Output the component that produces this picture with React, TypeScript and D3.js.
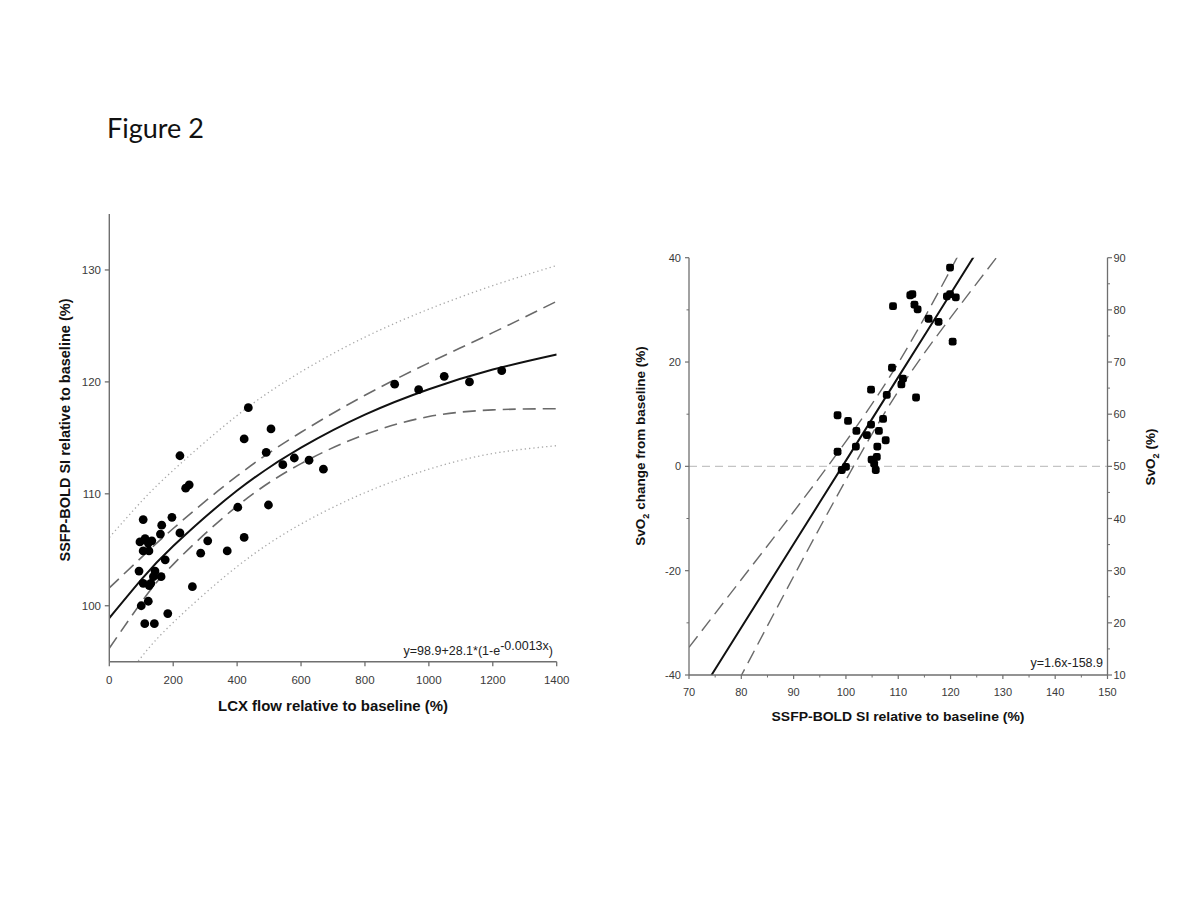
import React from "react";
import * as d3 from "d3";

// ---------- Left panel data ----------
const lcxFlow = [435, 422, 506, 221, 491, 543, 579, 625, 670, 239, 250, 402, 498, 106, 196, 164, 160, 221, 96, 112, 133, 122, 106, 124, 308, 422, 286, 369, 175, 93, 143, 138, 162, 106, 130, 125, 260, 122, 100, 183, 111, 141, 893, 968, 1048, 1127, 1228];
const boldSI = [117.7, 114.9, 115.8, 113.4, 113.7, 112.6, 113.2, 113.0, 112.2, 110.5, 110.8, 108.8, 109.0, 107.7, 107.9, 107.2, 106.4, 106.5, 105.7, 106.0, 105.8, 105.6, 104.9, 104.9, 105.8, 106.1, 104.7, 104.9, 104.1, 103.1, 103.1, 102.6, 102.6, 102.0, 102.0, 101.8, 101.7, 100.4, 100.0, 99.3, 98.4, 98.4, 119.8, 119.3, 120.5, 120.0, 121.0];

const bandX = [0, 100, 200, 400, 600, 800, 1000, 1200, 1400];
const fitL = [98.9, 102.33, 105.33, 110.29, 114.12, 117.07, 119.34, 121.1, 122.45];
const ciUpperL = [101.6, 104.3, 106.9, 111.6, 115.5, 118.8, 121.7, 124.4, 127.2];
const ciLowerL = [96.2, 100.3, 103.7, 108.9, 112.7, 115.3, 116.9, 117.5, 117.6];
const predUpperL = [106.1, 109.3, 112.1, 117.0, 120.9, 124.0, 126.5, 128.6, 130.4];
const predLowerL = [91.7, 95.4, 98.5, 103.5, 107.3, 110.1, 112.2, 113.6, 114.3];

const leftXTicks = [0, 200, 400, 600, 800, 1000, 1200, 1400];
const leftYTicks = [100, 110, 120, 130];

// ---------- Right panel data ----------
const ssfpBold = [119.9, 112.3, 112.7, 119.3, 119.9, 121.0, 109.0, 113.1, 113.7, 115.8, 117.7, 120.4, 108.8, 110.9, 110.6, 104.8, 107.8, 113.4, 98.4, 100.4, 107.1, 104.8, 102.0, 106.3, 104.0, 107.6, 98.4, 101.9, 106.0, 104.9, 105.9, 105.4, 105.7, 99.2, 100.0];
const svo2Change = [38.1, 32.8, 33.0, 32.6, 33.0, 32.4, 30.7, 31.0, 30.1, 28.3, 27.7, 23.9, 18.9, 16.8, 15.7, 14.7, 13.7, 13.2, 9.8, 8.7, 9.1, 8.0, 6.8, 6.8, 6.0, 5.0, 2.8, 3.8, 3.8, 1.3, 1.8, 0.5, -0.7, -0.7, -0.1];

const bandXR = [70, 80, 90, 100, 110, 120, 130];
const fitR = [-46.9, -30.9, -14.9, 1.1, 17.1, 33.1, 49.1];
const ciUpperR = [-34.7, -21.7, -8.7, 4.8, 19.8, 37.7, 56.6];
const ciLowerR = [-59.1, -40.1, -21.1, -2.6, 14.4, 28.5, 41.6];

const rightXTicks = [70, 80, 90, 100, 110, 120, 130, 140, 150];
const rightXMinor = [75, 85, 95, 105, 115, 125, 135, 145];
const rightYTicks = [-40, -20, 0, 20, 40];
const rightYMinor = [-30, -10, 10, 30];
const right2Ticks = [10, 20, 30, 40, 50, 60, 70, 80, 90];
const right2Minor = [15, 25, 35, 45, 55, 65, 75, 85];

const AX = "#6f6f6f";
const TICKC = "#3a3a3a";
const FONT = "'Liberation Sans', Arial, sans-serif";

export default function App() {
  // Left scales
  const xL = d3.scaleLinear().domain([0, 1400]).range([109.3, 556.7]);
  const yL = d3.scaleLinear().domain([95, 135]).range([661.7, 214]);
  // Right scales
  const xR = d3.scaleLinear().domain([70, 150]).range([689, 1107.5]);
  const yR = d3.scaleLinear().domain([-40, 40]).range([675, 257.7]);
  const yR2 = d3.scaleLinear().domain([10, 90]).range([675, 257.7]);

  const lineL = (vals: number[]) =>
    d3.line<number>().x((_, i) => xL(bandX[i])).y((v) => yL(v)).curve(d3.curveNatural)(vals) || "";
  const lineR = (vals: number[]) =>
    d3.line<number>().x((_, i) => xR(bandXR[i])).y((v) => yR(v)).curve(d3.curveNatural)(vals) || "";

  const [lx0, lx1] = xL.range();
  const [ly0, ly1] = yL.range();
  const [rx0, rx1] = xR.range();
  const [ry0, ry1] = yR.range();

  return (
    <svg width={1200} height={900} style={{ position: "absolute", left: 0, top: 0, background: "#fff" }} fontFamily={FONT}>
      <defs>
        <clipPath id="clipL">
          <rect x={lx0} y={ly1} width={lx1 - lx0} height={ly0 - ly1} />
        </clipPath>
        <clipPath id="clipR">
          <rect x={rx0} y={ry1} width={rx1 - rx0} height={ry0 - ry1} />
        </clipPath>
      </defs>
      <rect width={1200} height={900} fill="#fff" />

      <text x={107} y={138} fontFamily="Lato, 'Open Sans', sans-serif" fontSize={27} fill="#111">Figure 2</text>

      {/* ================= LEFT PANEL ================= */}
      <g clipPath="url(#clipL)">
        <path d={lineL(predUpperL)} fill="none" stroke="#a8a8a8" strokeWidth={1.3} strokeDasharray="1.3,3" />
        <path d={lineL(predLowerL)} fill="none" stroke="#a8a8a8" strokeWidth={1.3} strokeDasharray="1.3,3" />
        <path d={lineL(ciUpperL)} fill="none" stroke="#6a6a6a" strokeWidth={1.6} strokeDasharray="13,7" />
        <path d={lineL(ciLowerL)} fill="none" stroke="#6a6a6a" strokeWidth={1.6} strokeDasharray="13,7" />
        <path d={lineL(fitL)} fill="none" stroke="#111" strokeWidth={2} />
      </g>
      {lcxFlow.map((v, i) => (
        <circle key={i} cx={xL(v)} cy={yL(boldSI[i])} r={4.4} fill="#000" />
      ))}
      {/* axes */}
      <line x1={lx0} x2={lx0} y1={ly1} y2={ly0} stroke={AX} strokeWidth={1.4} />
      <line x1={lx0} x2={lx1} y1={ly0} y2={ly0} stroke={AX} strokeWidth={1.4} />
      {leftXTicks.map((t) => (
        <g key={t}>
          <line x1={xL(t)} x2={xL(t)} y1={ly0} y2={ly0 + 4.5} stroke={AX} strokeWidth={1.3} />
          <text x={xL(t)} y={683.5} textAnchor="middle" fontSize={11.5} fill={TICKC}>{t}</text>
        </g>
      ))}
      {leftYTicks.map((t) => (
        <g key={t}>
          <line x1={lx0 - 4.5} x2={lx0} y1={yL(t)} y2={yL(t)} stroke={AX} strokeWidth={1.3} />
          <text x={101} y={yL(t) + 4} textAnchor="end" fontSize={11.5} fill={TICKC}>{t}</text>
        </g>
      ))}
      <text x={333} y={711} textAnchor="middle" fontSize={14} fontWeight="bold" fill="#111" textLength={230} lengthAdjust="spacingAndGlyphs">LCX flow relative to baseline (%)</text>
      <text transform="translate(70,430) rotate(-90)" textAnchor="middle" fontSize={14} fontWeight="bold" fill="#111" textLength={263} lengthAdjust="spacingAndGlyphs">SSFP-BOLD SI relative to baseline (%)</text>
      <text x={553} y={655} textAnchor="end" fontSize={12.5} fill="#222">
        y=98.9+28.1*(1-e<tspan dy={-5.5} fontSize={12.5}>-0.0013x</tspan><tspan dy={5.5}>)</tspan>
      </text>

      {/* ================= RIGHT PANEL ================= */}
      <line x1={rx0} x2={rx1} y1={yR(0)} y2={yR(0)} stroke="#c4c4c4" strokeWidth={1.2} strokeDasharray="8,5" />
      <g clipPath="url(#clipR)">
        <path d={lineR(ciUpperR)} fill="none" stroke="#6a6a6a" strokeWidth={1.4} strokeDasharray="14,7" />
        <path d={lineR(ciLowerR)} fill="none" stroke="#6a6a6a" strokeWidth={1.4} strokeDasharray="14,7" />
        <path d={lineR(fitR)} fill="none" stroke="#111" strokeWidth={2} />
      </g>
      {ssfpBold.map((v, i) => (
        <rect key={i} x={xR(v) - 3.9} y={yR(svo2Change[i]) - 3.9} width={7.8} height={7.8} rx={2.4} fill="#000" />
      ))}
      {/* axes */}
      <line x1={rx0} x2={rx0} y1={ry1} y2={ry0} stroke={AX} strokeWidth={1.3} />
      <line x1={rx1} x2={rx1} y1={ry1} y2={ry0} stroke={AX} strokeWidth={1.3} />
      <line x1={rx0} x2={rx1} y1={ry0} y2={ry0} stroke={AX} strokeWidth={1.3} />
      {rightXTicks.map((t) => (
        <g key={t}>
          <line x1={xR(t)} x2={xR(t)} y1={ry0} y2={ry0 + 4} stroke={AX} strokeWidth={1.2} />
          <text x={xR(t)} y={695.5} textAnchor="middle" fontSize={11} fill={TICKC}>{t}</text>
        </g>
      ))}
      {rightXMinor.map((t) => (
        <line key={t} x1={xR(t)} x2={xR(t)} y1={ry0} y2={ry0 + 2.5} stroke={AX} strokeWidth={1} />
      ))}
      {rightYTicks.map((t) => (
        <g key={t}>
          <line x1={rx0 - 4} x2={rx0} y1={yR(t)} y2={yR(t)} stroke={AX} strokeWidth={1.2} />
          <text x={681} y={yR(t) + 4} textAnchor="end" fontSize={11} fill={TICKC}>{t}</text>
        </g>
      ))}
      {rightYMinor.map((t) => (
        <line key={t} x1={rx0 - 2.5} x2={rx0} y1={yR(t)} y2={yR(t)} stroke={AX} strokeWidth={1} />
      ))}
      {right2Ticks.map((t) => (
        <g key={t}>
          <line x1={rx1} x2={rx1 + 4.5} y1={yR2(t)} y2={yR2(t)} stroke={AX} strokeWidth={1.2} />
          <text x={1113.5} y={yR2(t) + 4} textAnchor="start" fontSize={11} fill={TICKC}>{t}</text>
        </g>
      ))}
      {right2Minor.map((t) => (
        <line key={t} x1={rx1} x2={rx1 + 2.5} y1={yR2(t)} y2={yR2(t)} stroke={AX} strokeWidth={1} />
      ))}
      <text x={898} y={721} textAnchor="middle" fontSize={13.5} fontWeight="bold" fill="#111" textLength={253} lengthAdjust="spacingAndGlyphs">SSFP-BOLD SI relative to baseline (%)</text>
      <text transform="translate(645,446) rotate(-90)" textAnchor="middle" fontSize={13.5} fontWeight="bold" fill="#111">
        SvO<tspan fontSize={9} dy={4}>2</tspan><tspan dy={-4}> change from baseline (%)</tspan>
      </text>
      <text transform="translate(1155,457) rotate(-90)" textAnchor="middle" fontSize={13.5} fontWeight="bold" fill="#111">
        SvO<tspan fontSize={9} dy={4}>2</tspan><tspan dy={-4}> (%)</tspan>
      </text>
      <text x={1103} y={666.5} textAnchor="end" fontSize={12.5} fill="#222">y=1.6x-158.9</text>
    </svg>
  );
}
